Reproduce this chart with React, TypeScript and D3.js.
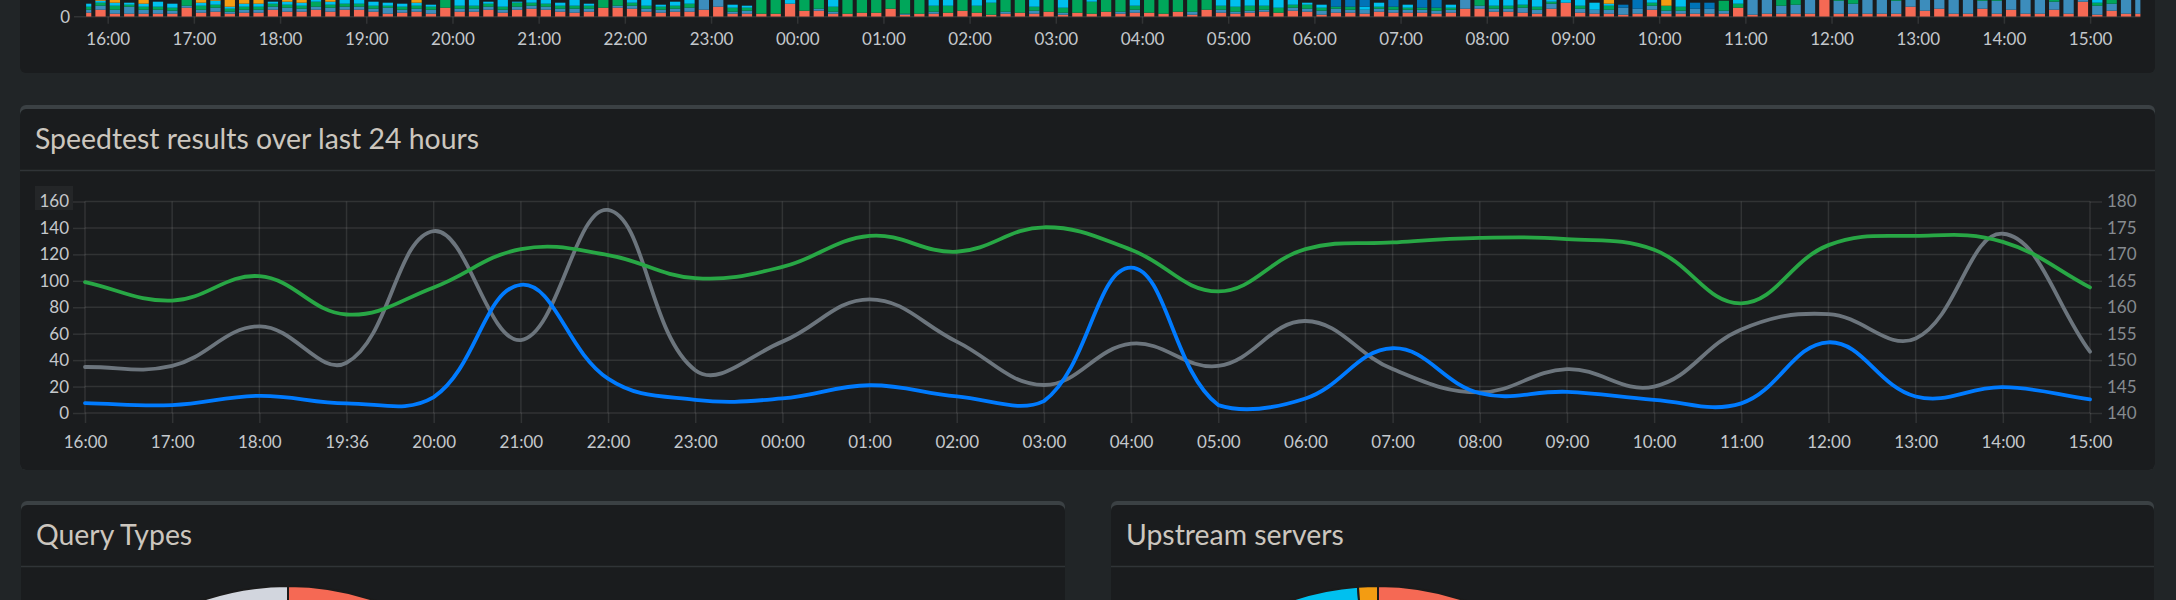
import React, { useEffect, useRef } from 'react';
import * as d3 from 'd3';

const W = 2176;
const H = 600;

// ---------- client activity (top panel; only the bottom strip is on screen)
const BAR_HOURS = ['16:00', '17:00', '18:00', '19:00', '20:00', '21:00', '22:00', '23:00',
  '00:00', '01:00', '02:00', '03:00', '04:00', '05:00', '06:00', '07:00',
  '08:00', '09:00', '10:00', '11:00', '12:00', '13:00', '14:00', '15:00'];

const CLIENT_KEYS = ['localhost', 'desktop', 'phone', 'tablet', 'tv', 'nas'];
const CLIENT_COLORS = ['#f56954', '#3c8dbc', '#00a65a', '#00c0ef', '#f39c12', '#0073b7'];

// one value per 10-minute slot, first slot 15:45
const LOCALHOST = [
  4, 7, 3, 3, 3, 3, 3, 9, 4, 5,
  3, 4, 4, 7, 5, 5, 7, 5, 7, 7,
  5, 3, 4, 5, 3, 9, 5, 5, 7, 4,
  7, 8, 7, 5, 4, 5, 9, 9, 8, 5,
  4, 5, 5, 7, 10, 3, 3, 3, 3, 13,
  6, 6, 3, 3, 4, 4, 8, 2, 3, 3,
  4, 6, 4, 2, 3, 4, 3, 5, 2, 4,
  3, 5, 3, 4, 4, 3, 5, 2, 7, 4,
  3, 4, 5, 4, 6, 5, 2, 4, 4, 3,
  5, 4, 4, 4, 3, 4, 8, 8, 5, 5,
  4, 3, 8, 14, 4, 3, 3, 2, 3, 7,
  3, 3, 3, 3, 3, 9, 2, 3, 3, 3,
  3, 20, 3, 3, 3, 3, 3, 10, 6, 8,
  3, 3, 8, 3, 7, 3, 3, 7, 3, 15,
  2, 6, 3, 3];
const DESKTOP = [
  3, 4, 4, 7, 4, 4, 3, 2, 3, 4,
  2, 3, 3, 3, 4, 3, 3, 4, 3, 3,
  3, 6, 3, 3, 4, 0, 3, 3, 3, 3,
  3, 3, 3, 3, 4, 3, 0, 2, 3, 3,
  3, 3, 4, 12, 10, 2, 3, 0, 0, 0,
  0, 2, 2, 0, 0, 0, 0, 1, 0, 2,
  0, 0, 0, 0, 2, 0, 3, 0, 2, 0,
  0, 0, 2, 3, 0, 0, 0, 3, 0, 3,
  2, 2, 2, 0, 3, 3, 4, 4, 3, 4,
  3, 3, 3, 3, 3, 3, 10, 3, 3, 3,
  5, 4, 5, 0, 4, 4, 4, 7, 5, 4,
  3, 3, 5, 5, 3, 0, 20, 20, 8, 9,
  20, 0, 13, 10, 20, 20, 13, 15, 15, 15,
  20, 20, 8, 13, 15, 20, 20, 8, 20, 5,
  9, 7, 20, 20];
const PHONE = [
  3, 3, 4, 2, 3, 3, 3, 12, 4, 3,
  3, 3, 3, 3, 3, 3, 5, 3, 3, 3,
  3, 2, 3, 3, 3, 14, 3, 3, 3, 3,
  4, 3, 3, 3, 3, 3, 16, 14, 3, 3,
  3, 3, 4, 0, 0, 4, 3, 16, 16, 0,
  16, 14, 5, 16, 16, 16, 14, 16, 16, 6,
  7, 16, 7, 12, 14, 16, 4, 16, 5, 16,
  12, 16, 14, 4, 16, 16, 16, 14, 16, 4,
  5, 5, 4, 5, 3, 4, 3, 2, 3, 0,
  2, 3, 2, 2, 3, 2, 0, 10, 3, 3,
  3, 3, 2, 0, 3, 0, 4, 0, 0, 3,
  5, 4, 0, 0, 10, 4, 0, 0, 10, 10,
  0, 0, 8, 8, 0, 0, 8, 0, 0, 0,
  0, 0, 8, 8, 0, 0, 0, 8, 0, 0,
  3, 8, 0, 0];
const TABLET = [
  3, 2, 3, 2, 3, 5, 4, 0, 3, 4,
  2, 3, 3, 2, 3, 3, 8, 3, 10, 10,
  4, 3, 3, 3, 2, 0, 10, 10, 2, 10,
  1, 10, 10, 3, 10, 2, 0, 0, 10, 10,
  2, 4, 10, 0, 0, 3, 2, 0, 0, 8,
  0, 0, 8, 0, 0, 0, 0, 0, 0, 8,
  8, 0, 8, 6, 0, 0, 8, 0, 8, 0,
  6, 0, 0, 8, 0, 0, 0, 0, 0, 8,
  8, 8, 8, 10, 8, 2, 3, 0, 0, 3,
  4, 0, 3, 0, 0, 3, 0, 0, 10, 10,
  10, 10, 10, 8, 10, 7, 2, 0, 0, 8,
  0, 10, 0, 0, 0, 10, 0, 0, 0, 0,
  0, 0, 0, 0, 0, 0, 0, 0, 0, 0,
  0, 0, 0, 0, 0, 0, 0, 0, 0, 0,
  8, 0, 0, 0];
const TV = [
  0, 12, 10, 0, 10, 0, 0, 0, 10, 8,
  14, 10, 10, 0, 8, 10, 0, 8, 0, 0,
  0, 0, 0, 8, 0, 0, 0, 0, 0, 0,
  0, 0, 0, 0, 0, 0, 0, 0, 0, 0,
  0, 0, 0, 0, 0, 0, 0, 0, 0, 0,
  0, 0, 0, 0, 0, 0, 0, 0, 0, 0,
  0, 0, 0, 0, 0, 0, 0, 0, 0, 0,
  0, 0, 0, 0, 0, 0, 0, 0, 0, 0,
  0, 0, 0, 0, 0, 0, 0, 0, 0, 0,
  0, 0, 0, 0, 0, 0, 0, 0, 0, 0,
  0, 0, 0, 0, 0, 0, 10, 0, 0, 0,
  10, 0, 0, 0, 0, 0, 0, 0, 0, 0,
  0, 0, 0, 0, 0, 0, 0, 0, 0, 0,
  0, 0, 0, 0, 0, 0, 0, 0, 0, 0,
  0, 0, 0, 0];
const NAS = [
  0, 0, 0, 0, 0, 0, 0, 0, 0, 0,
  0, 0, 0, 0, 0, 0, 0, 0, 0, 0,
  0, 0, 0, 0, 0, 0, 0, 0, 0, 0,
  0, 0, 0, 0, 0, 0, 0, 0, 0, 0,
  0, 0, 0, 0, 0, 0, 0, 0, 0, 0,
  0, 0, 0, 0, 0, 0, 0, 0, 0, 0,
  0, 0, 0, 0, 0, 0, 0, 0, 0, 0,
  0, 0, 0, 0, 0, 0, 0, 0, 0, 0,
  0, 0, 0, 0, 0, 0, 0, 10, 10, 10,
  0, 8, 0, 8, 8, 0, 0, 0, 0, 0,
  0, 0, 0, 0, 0, 0, 0, 3, 10, 0,
  0, 0, 6, 6, 0, 0, 0, 0, 0, 0,
  0, 0, 0, 0, 0, 0, 0, 0, 0, 0,
  0, 0, 0, 0, 0, 0, 0, 0, 0, 0,
  0, 0, 0, 0];

// ---------- speedtest
const SPEED_LABELS = ['16:00', '17:00', '18:00', '19:36', '20:00', '21:00', '22:00', '23:00',
  '00:00', '01:00', '02:00', '03:00', '04:00', '05:00', '06:00', '07:00',
  '08:00', '09:00', '10:00', '11:00', '12:00', '13:00', '14:00', '15:00'];
const DOWNLOAD = [99, 85, 103.5, 74.5, 95, 124, 119.5, 102, 110.5, 134, 122, 140.5,
  123.5, 92, 124, 129, 132.5, 131.5, 123.5, 83, 127, 134, 129.5, 95];
const UPLOAD = [7.5, 6, 13, 7.3, 12, 97, 26, 10, 11, 21, 12.5, 9,
  110, 6, 11, 49, 15, 16, 10, 7.3, 53.5, 12.5, 19.5, 10.3];
const PING = [148.7, 148.9, 156.4, 149.5, 174.4, 153.8, 178.4, 148.1, 153.5, 161.5, 153.5, 145.3,
  153.1, 148.9, 157.4, 148.3, 143.9, 148.3, 145, 155.8, 158.7, 154.1, 173.9, 151.6];
const LEFT_TICKS = [0, 20, 40, 60, 80, 100, 120, 140, 160];
const RIGHT_TICKS = [140, 145, 150, 155, 160, 165, 170, 175, 180];

// ---------- pies (only the top arc is on screen)
const QUERY_TYPES = ['A', 'AAAA', 'SRV', 'SOA', 'PTR', 'TXT', 'NS', 'SVCB', 'HTTPS'];
const QUERY_SHARE = [52.1, 18.4, 0.4, 0.6, 6.3, 0.3, 0.2, 0.5, 21.2];
const QUERY_COLORS = ['#f56954', '#3c8dbc', '#f39c12', '#0073b7', '#001f3f', '#39cccc', '#ff851b', '#222222', '#d2d6de'];
const UPSTREAMS = ['blocklist', 'cache', '1.1.1.1#53', '1.0.0.1#53', '9.9.9.9#53'];
const UPSTREAM_SHARE = [24.6, 31.2, 8.9, 34.1, 1.2];
const UPSTREAM_COLORS = ['#f56954', '#3c8dbc', '#00a65a', '#00c0ef', '#f39c12'];

const FONT = 'Lato, "Open Sans", sans-serif';
const PAGE_BG = '#212527';
const BOX_BG = '#1a1c1e';
const BOX_TOP = '#3b4144';
const GRID = 'rgba(255,255,255,0.1)';
const TICK_TEXT = '#c4c8cc';
const TITLE_TEXT = '#ccc6be';

// Chart.js style bezier spline (tension 0.4, control points capped to the area)
const chartSpline = (tension: number, top: number, bottom: number) => (context: any) => {
  let pts: [number, number][] = [];
  return {
    areaStart() {},
    areaEnd() {},
    lineStart() { pts = []; },
    point(x: number, y: number) { pts.push([+x, +y]); },
    lineEnd() {
      const n = pts.length;
      if (!n) return;
      const cap = (v: number) => Math.max(top, Math.min(bottom, v));
      const cps = pts.map((p, i) => {
        const a = pts[Math.max(0, i - 1)];
        const c = pts[Math.min(n - 1, i + 1)];
        const d01 = Math.hypot(p[0] - a[0], p[1] - a[1]);
        const d12 = Math.hypot(c[0] - p[0], c[1] - p[1]);
        const sum = d01 + d12 || 1;
        const fa = (tension * d01) / sum;
        const fb = (tension * d12) / sum;
        return {
          px: p[0] - fa * (c[0] - a[0]), py: cap(p[1] - fa * (c[1] - a[1])),
          nx: p[0] + fb * (c[0] - a[0]), ny: cap(p[1] + fb * (c[1] - a[1])),
        };
      });
      context.moveTo(pts[0][0], pts[0][1]);
      for (let i = 1; i < n; i++) {
        context.bezierCurveTo(cps[i - 1].nx, cps[i - 1].ny, cps[i].px, cps[i].py, pts[i][0], pts[i][1]);
      }
    },
  };
};

const App = () => {
  const ref = useRef<SVGSVGElement | null>(null);

  useEffect(() => {
    if (!ref.current) return;
    document.body.style.margin = '0';
    document.body.style.overflow = 'hidden';

    const svg = d3.select(ref.current);
    svg.selectAll('*').remove();

    svg.append('rect').attr('width', W).attr('height', H).attr('fill', PAGE_BG);

    // panel helper
    const box = (x: number, y: number, w: number, h: number, title?: string, topBorder = true) => {
      const g = svg.append('g');
      if (topBorder) {
        g.append('rect').attr('x', x).attr('y', y).attr('width', w).attr('height', h)
          .attr('rx', 6).attr('fill', BOX_TOP);
      }
      g.append('rect').attr('x', x).attr('y', topBorder ? y + 4 : y).attr('width', w)
        .attr('height', topBorder ? h - 4 : h).attr('rx', 6).attr('fill', BOX_BG);
      if (title) {
        g.append('text').attr('x', x + 15).attr('y', y + 44).text(title)
          .attr('font-family', FONT).attr('font-size', 28.4).attr('fill', TITLE_TEXT);
        g.append('line').attr('x1', x).attr('x2', x + w).attr('y1', y + 65.5).attr('y2', y + 65.5)
          .attr('stroke', '#303437').attr('stroke-width', 1.5);
      }
      return g;
    };

    // ================= top panel: client activity bars =================
    box(20, -40, 2135, 113, undefined, false);

    const barBase = 16.7;
    const xBar = d3.scaleLinear().domain([0, 1430]).range([86.15, 2140.4]);
    const yBar = d3.scaleLinear().domain([0, 160]).range([barBase, barBase - 160]);
    const rows = LOCALHOST.map((_, i) => ({
      t: i * 10,
      localhost: LOCALHOST[i], desktop: DESKTOP[i], phone: PHONE[i],
      tablet: TABLET[i], tv: TV[i], nas: NAS[i],
    }));
    const stacked = d3.stack<any>().keys(CLIENT_KEYS)(rows);
    const bw = 10.3;

    svg.append('clipPath').attr('id', 'barclip').append('rect')
      .attr('x', xBar(0)).attr('y', -200).attr('width', xBar(1430) - xBar(0)).attr('height', 200 + barBase);

    svg.append('line').attr('x1', 74).attr('x2', xBar(1430)).attr('y1', barBase).attr('y2', barBase)
      .attr('stroke', GRID).attr('stroke-width', 1.5);

    const bars = svg.append('g').attr('clip-path', 'url(#barclip)');
    stacked.forEach((layer, k) => {
      bars.append('g').attr('fill', CLIENT_COLORS[k])
        .selectAll('rect').data(layer).enter().append('rect')
        .attr('x', (d: any) => xBar(d.data.t) - bw / 2)
        .attr('width', bw)
        .attr('y', (d: any) => yBar(d[1]))
        .attr('height', (d: any) => Math.max(0, yBar(d[0]) - yBar(d[1])));
    });

    const hourMinutes = BAR_HOURS.map((_, i) => 15 + i * 60);
    const barAxis = svg.append('g').attr('transform', `translate(0,${barBase})`)
      .call(d3.axisBottom(xBar).tickValues(hourMinutes).tickFormat((_, i) => BAR_HOURS[i]).tickSize(7).tickPadding(9));
    barAxis.select('.domain').remove();
    barAxis.selectAll('line').attr('stroke', GRID).attr('stroke-width', 1.5);
    barAxis.selectAll('text').attr('fill', TICK_TEXT).attr('font-family', FONT).attr('font-size', 17);

    svg.append('text').attr('x', 70).attr('y', barBase).attr('dy', '0.35em').attr('text-anchor', 'end')
      .attr('font-family', FONT).attr('font-size', 17).attr('fill', TICK_TEXT).text('0');

    // ================= speedtest panel =================
    box(20, 105, 2135, 365, 'Speedtest results over last 24 hours');

    const left = 85;
    const right = 2090;
    const top = 201.5;
    const bottom = 413;
    const x = d3.scalePoint().domain(SPEED_LABELS).range([left, right]);
    const yL = d3.scaleLinear().domain([0, 160]).range([bottom, top]);
    const yR = d3.scaleLinear().domain([140, 180]).range([bottom, top]);

    svg.append('rect').attr('x', 35).attr('y', 186).attr('width', 38).attr('height', 24).attr('fill', '#242628');

    // grid
    const grid = svg.append('g').attr('stroke', GRID).attr('stroke-width', 1.5);
    grid.selectAll('line.h').data(LEFT_TICKS).enter().append('line')
      .attr('x1', left).attr('x2', right).attr('y1', (d) => yL(d)).attr('y2', (d) => yL(d));
    grid.selectAll('line.v').data(SPEED_LABELS).enter().append('line')
      .attr('x1', (d) => x(d) as number).attr('x2', (d) => x(d) as number).attr('y1', top).attr('y2', bottom);

    const styleAxis = (g: any, color: string) => {
      g.select('.domain').remove();
      g.selectAll('line').attr('stroke', GRID).attr('stroke-width', 1.5);
      g.selectAll('text').attr('fill', color).attr('font-family', FONT).attr('font-size', 17);
    };

    styleAxis(svg.append('g').attr('transform', `translate(${left},0)`)
      .call(d3.axisLeft(yL).tickValues(LEFT_TICKS).tickSize(12).tickPadding(4)), TICK_TEXT);
    styleAxis(svg.append('g').attr('transform', `translate(${right},0)`)
      .call(d3.axisRight(yR).tickValues(RIGHT_TICKS).tickSize(12).tickPadding(5)), '#868b90');
    styleAxis(svg.append('g').attr('transform', `translate(0,${bottom})`)
      .call(d3.axisBottom(x).tickSize(10).tickPadding(13)), TICK_TEXT);

    const curve = chartSpline(0.4, top, bottom) as any;
    const line = (yScale: any) => d3.line<number>()
      .x((_, i) => x(SPEED_LABELS[i]) as number)
      .y((d) => yScale(d))
      .curve(curve);

    const series = [
      { data: PING, scale: yR, color: '#6c757d' },
      { data: UPLOAD, scale: yL, color: '#007bff' },
      { data: DOWNLOAD, scale: yL, color: '#28a745' },
    ];
    series.forEach((s) => {
      svg.append('path').attr('d', line(s.scale)(s.data) as string)
        .attr('fill', 'none').attr('stroke', s.color).attr('stroke-width', 3.8)
        .attr('stroke-linejoin', 'round').attr('stroke-linecap', 'round');
    });

    // ================= bottom panels with pies =================
    box(21, 501, 1044, 200, 'Query Types');
    box(1111, 501, 1043, 200, 'Upstream servers');

    const arc = d3.arc<any>().innerRadius(0).outerRadius(266);
    const pie = d3.pie<number>().sort(null).value((d) => d);

    const drawPie = (cx: number, values: number[], colors: string[]) => {
      const g = svg.append('g').attr('transform', `translate(${cx},${586 + 266})`);
      g.selectAll('path').data(pie(values)).enter().append('path')
        .attr('d', arc as any)
        .attr('fill', (_, i) => colors[i])
        .attr('stroke', '#1b1b1b').attr('stroke-width', 2);
    };
    drawPie(288, QUERY_SHARE, QUERY_COLORS);
    drawPie(1378, UPSTREAM_SHARE, UPSTREAM_COLORS);
  }, []);

  return <svg ref={ref} width={W} height={H} style={{ position: 'absolute', left: 0, top: 0, display: 'block' }} />;
};

export default App;
